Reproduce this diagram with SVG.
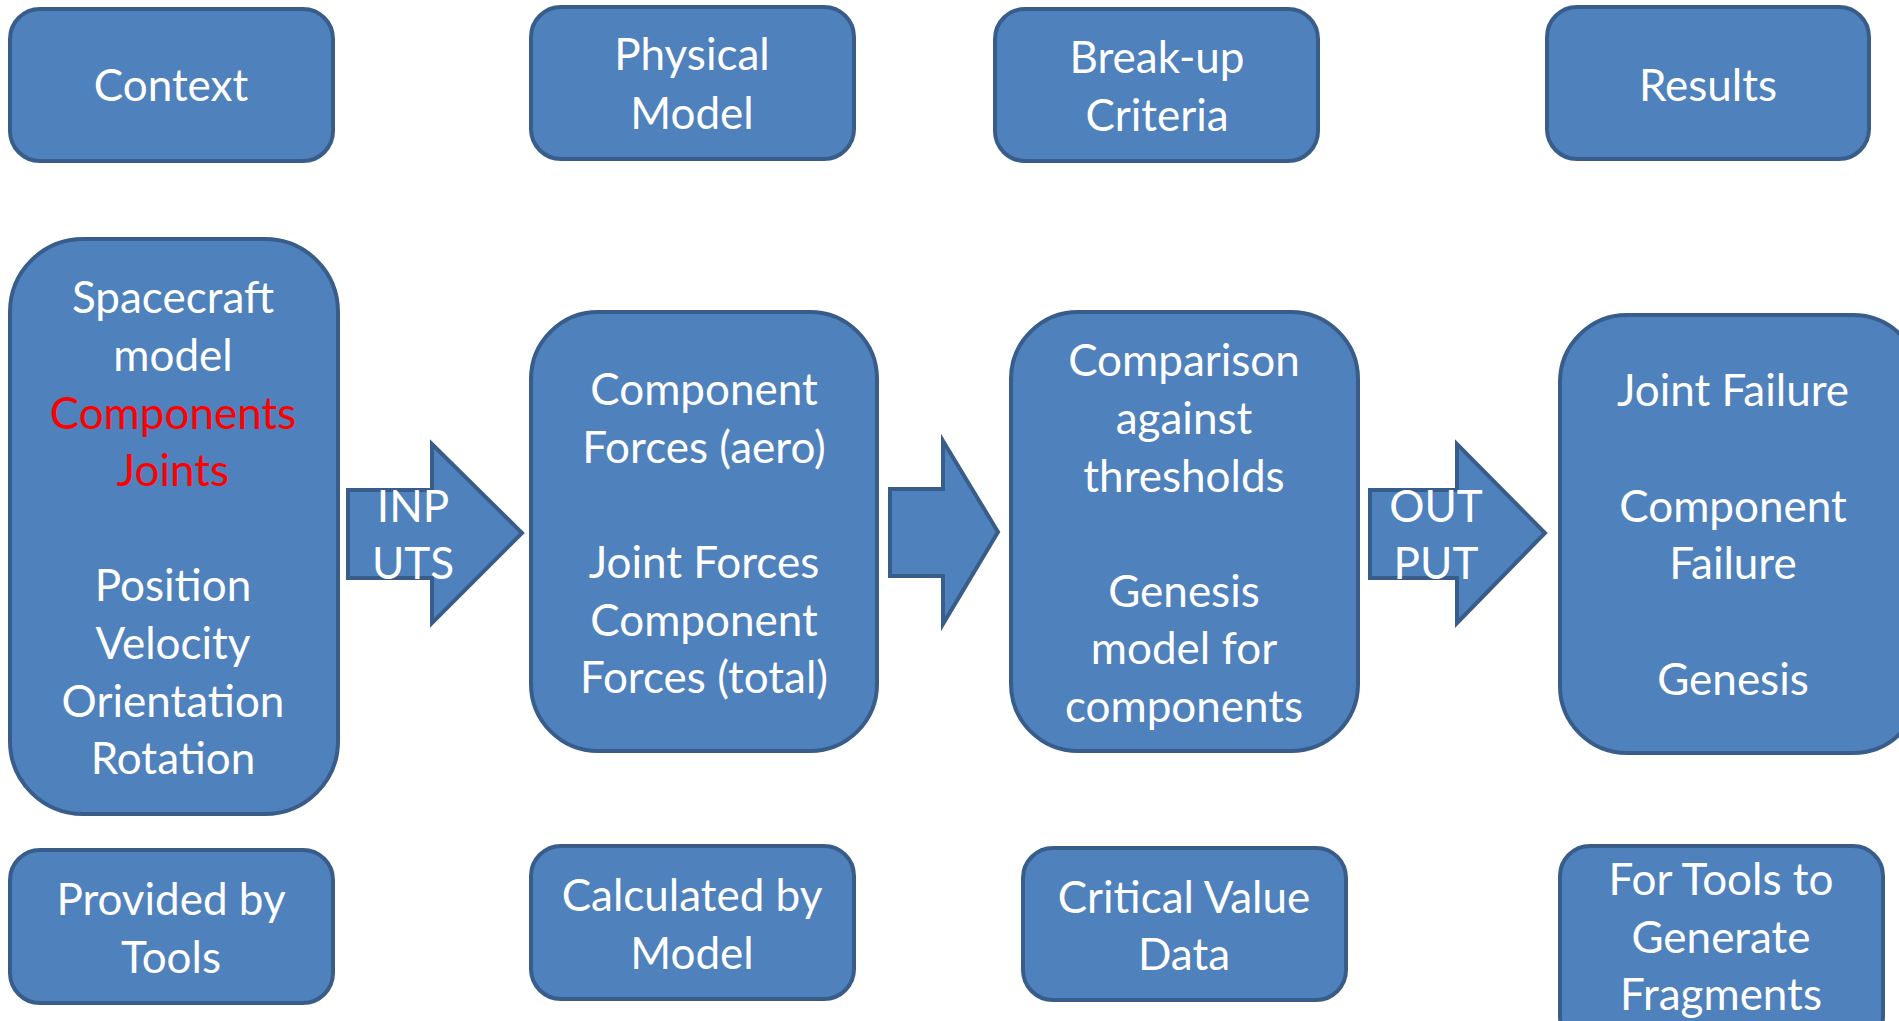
<svg xmlns="http://www.w3.org/2000/svg" width="1899" height="1021" viewBox="0 0 1899 1021">
<style>
.box{fill:#4F81BD;stroke:#385D8A;stroke-width:4}
.t{font-family:Lato,"Open Sans","Liberation Sans",sans-serif;font-size:44px;fill:#FFFFFF;text-anchor:middle}
.r{fill:#FF0000}
</style>
<rect width="1899" height="1021" fill="#FFFFFF"/>
<g id="connectors">
<polygon class="box" points="348,490 432,490 432,444 522,533 432,623 432,578 348,578"/>
<polygon class="box" points="890,489 943,489 943,441 998,532 943,624 943,576 890,576"/>
<polygon class="box" points="1370,490 1457,490 1457,444 1545,533 1457,623 1457,578 1370,578"/>
</g>
<g id="context"><rect class="box" x="10" y="9" width="323" height="152" rx="30"/>
<text class="t" x="171" y="101">Context</text></g>
<g id="physical-model"><rect class="box" x="531" y="7" width="323" height="152" rx="30"/>
<text class="t" x="692" y="70">Physical</text><text class="t" x="692" y="129">Model</text></g>
<g id="breakup-criteria"><rect class="box" x="995" y="9" width="323" height="152" rx="30"/>
<text class="t" x="1157" y="73">Break-up</text><text class="t" x="1157" y="131">Criteria</text></g>
<g id="results"><rect class="box" x="1547" y="7" width="322" height="152" rx="30"/>
<text class="t" x="1708" y="101">Results</text></g>
<g id="spacecraft"><rect class="box" x="10" y="239" width="328" height="575" rx="73"/>
<text class="t" x="173" y="313">Spacecraft</text>
<text class="t" x="173" y="371">model</text>
<text class="t r" x="173" y="429">Components</text>
<text class="t r" x="173" y="486">Joints</text>
<text class="t" x="173" y="601">Position</text>
<text class="t" x="173" y="659">Velocity</text>
<text class="t" x="173" y="717">Orientation</text>
<text class="t" x="173" y="774">Rotation</text></g>
<g id="forces"><rect class="box" x="531" y="312" width="346" height="439" rx="67"/>
<text class="t" x="704" y="405">Component</text>
<text class="t" x="704" y="463">Forces (aero)</text>
<text class="t" x="704" y="578">Joint Forces</text>
<text class="t" x="704" y="636">Component</text>
<text class="t" x="704" y="693">Forces (total)</text></g>
<g id="comparison"><rect class="box" x="1011" y="312" width="347" height="439" rx="67"/>
<text class="t" x="1184" y="376">Comparison</text>
<text class="t" x="1184" y="434">against</text>
<text class="t" x="1184" y="492">thresholds</text>
<text class="t" x="1184" y="607">Genesis</text>
<text class="t" x="1184" y="664">model for</text>
<text class="t" x="1184" y="722">components</text></g>
<g id="failure"><rect class="box" x="1560" y="315" width="360" height="438" rx="67"/>
<text class="t" x="1733" y="406">Joint Failure</text>
<text class="t" x="1733" y="522">Component</text>
<text class="t" x="1733" y="579">Failure</text>
<text class="t" x="1733" y="695">Genesis</text></g>
<g id="inputs-label"><text class="t" x="413" y="522">INP</text><text class="t" x="413" y="579">UTS</text></g>
<g id="output-label"><text class="t" x="1436" y="522">OUT</text><text class="t" x="1436" y="579">PUT</text></g>
<g id="provided"><rect class="box" x="10" y="850" width="323" height="153" rx="30"/>
<text class="t" x="171" y="915">Provided by</text><text class="t" x="171" y="973">Tools</text></g>
<g id="calculated"><rect class="box" x="531" y="846" width="323" height="153" rx="30"/>
<text class="t" x="692" y="911">Calculated by</text><text class="t" x="692" y="969">Model</text></g>
<g id="critical"><rect class="box" x="1023" y="848" width="323" height="152" rx="30"/>
<text class="t" x="1184" y="913">Critical Value</text><text class="t" x="1184" y="970">Data</text></g>
<g id="fragments"><rect class="box" x="1560" y="846" width="323" height="200" rx="30"/>
<text class="t" x="1721" y="895">For Tools to</text><text class="t" x="1721" y="953">Generate</text><text class="t" x="1721" y="1010">Fragments</text></g>
</svg>
